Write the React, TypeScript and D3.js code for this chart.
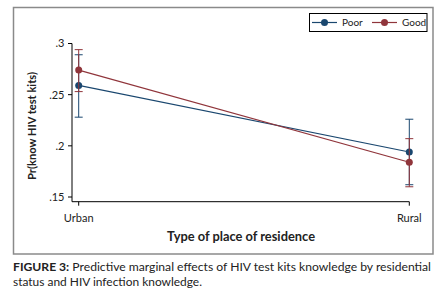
import React from "react";
import * as d3 from "d3";

const categories = ["Urban", "Rural"];
const poorValues = [0.259, 0.194];
const poorLower = [0.228, 0.162];
const poorUpper = [0.289, 0.226];
const goodValues = [0.274, 0.184];
const goodLower = [0.253, 0.16];
const goodUpper = [0.294, 0.207];
const yTicks = [0.15, 0.2, 0.25, 0.3];
const yTickLabels = [".15", ".2", ".25", ".3"];

const NAVY = "#1a476f";
const MAROON = "#90353b";
const FONT = "Lato, 'Open Sans', sans-serif";

export default function App() {
  const x = d3.scaleLinear().domain([0, categories.length - 1]).range([78.7, 409.3]);
  const y = d3.scaleLinear().domain([0.15, 0.3]).range([197, 43.5]);
  const line = d3
    .line<number>()
    .x((_, i) => x(i))
    .y((d) => y(d));

  const series = [
    { name: "Poor", color: NAVY, v: poorValues, lo: poorLower, hi: poorUpper },
    { name: "Good", color: MAROON, v: goodValues, lo: goodLower, hi: goodUpper },
  ];

  const axisY = 201.7;
  const axisX = 72;

  return (
    <svg
      width={445}
      height={295}
      style={{ position: "absolute", left: 0, top: 0, background: "#fff" }}
    >
      <rect x={0} y={0} width={445} height={295} fill="#fff" />
      <rect x={13.5} y={7.5} width={419.5} height={246.5} fill="#fff" stroke="#8a8a8a" strokeWidth={1.5} />

      {/* y axis */}
      <line x1={axisX} x2={axisX} y1={y(0.3)} y2={axisY} stroke="#000" strokeWidth={1} />
      {yTicks.map((t, i) => (
        <g key={t}>
          <line x1={axisX - 4} x2={axisX} y1={y(t)} y2={y(t)} stroke="#000" strokeWidth={1} />
          <text x={64.5} y={y(t)} dy="0.35em" textAnchor="end" fontSize={11} fontFamily={FONT} fill="#222">
            {yTickLabels[i]}
          </text>
        </g>
      ))}
      <text
        transform={`translate(35.5, ${(72 + 180) / 2}) rotate(-90)`}
        textAnchor="middle"
        fontSize={11}
        fontWeight="bold"
        fontFamily={FONT}
        fill="#222"
        textLength={108}
        lengthAdjust="spacingAndGlyphs"
      >
        Pr(know HIV test kits)
      </text>

      {/* x axis */}
      <line x1={axisX} x2={x(1)} y1={axisY} y2={axisY} stroke="#000" strokeWidth={1} />
      {categories.map((c, i) => (
        <g key={c}>
          <line x1={x(i)} x2={x(i)} y1={axisY} y2={axisY + 4} stroke="#000" strokeWidth={1} />
          <text x={x(i)} y={222} textAnchor="middle" fontSize={11} fontFamily={FONT} fill="#222">
            {c}
          </text>
        </g>
      ))}
      <text
        x={241}
        y={240.5}
        textAnchor="middle"
        fontSize={13}
        fontWeight="bold"
        fontFamily={FONT}
        fill="#222"
        textLength={148}
        lengthAdjust="spacingAndGlyphs"
      >
        Type of place of residence
      </text>

      {/* series */}
      {series.map((s) => (
        <g key={s.name}>
          <path d={line(s.v) || ""} fill="none" stroke={s.color} strokeWidth={1.2} />
          {s.v.map((_, i) => (
            <g key={i}>
              <line x1={x(i)} x2={x(i)} y1={y(s.lo[i])} y2={y(s.hi[i])} stroke={s.color} strokeWidth={1} />
              <line x1={x(i) - 4} x2={x(i) + 4} y1={y(s.lo[i])} y2={y(s.lo[i])} stroke={s.color} strokeWidth={1} />
              <line x1={x(i) - 4} x2={x(i) + 4} y1={y(s.hi[i])} y2={y(s.hi[i])} stroke={s.color} strokeWidth={1} />
            </g>
          ))}
          {s.v.map((d, i) => (
            <circle key={"c" + i} cx={x(i)} cy={y(d)} r={3.5} fill={s.color} />
          ))}
        </g>
      ))}

      {/* legend */}
      <rect x={309.5} y={13.5} width={117.5} height={18} fill="#fff" stroke="#000" strokeWidth={1} />
      {series.map((s, i) => {
        const lx = 312 + i * 60;
        return (
          <g key={s.name}>
            <line x1={lx} x2={lx + 25} y1={22.5} y2={22.5} stroke={s.color} strokeWidth={1.2} />
            <circle cx={lx + 12.5} cy={22.5} r={3.5} fill={s.color} />
            <text x={lx + 30} y={22.5} dy="0.35em" fontSize={10} fontFamily={FONT} fill="#222">
              {s.name}
            </text>
          </g>
        );
      })}

      {/* caption */}
      <text x={13} y={271} fontSize={11.5} fontFamily={FONT} fill="#222" textLength={418} lengthAdjust="spacingAndGlyphs">
        <tspan fontWeight="bold">FIGURE 3:</tspan> Predictive marginal effects of HIV test kits knowledge by residential
      </text>
      <text x={13} y={285.5} fontSize={11.5} fontFamily={FONT} fill="#222" textLength={189} lengthAdjust="spacingAndGlyphs">
        status and HIV infection knowledge.
      </text>
    </svg>
  );
}
